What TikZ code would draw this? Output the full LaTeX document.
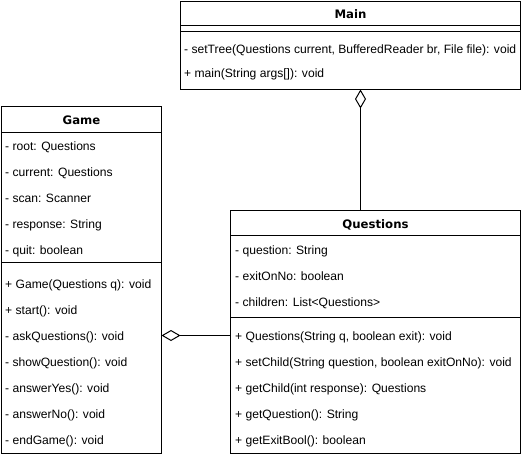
\documentclass[tikz,border=0pt]{standalone}
\usepackage{fontspec}
\setmainfont{Liberation Sans}
\newfontfamily\titlefont{DejaVu Sans}
\usetikzlibrary{arrows.meta}
\begin{document}
\begin{tikzpicture}[x=1pt,y=-1pt,
 box/.style={draw,line width=1pt,inner sep=0,outer sep=0,anchor=north west},
 txt/.style={anchor=base west,inner sep=0,font=\fontsize{12.1}{14}\selectfont},
 title/.style={anchor=base,inner sep=0,font=\titlefont\fontsize{11.7}{14}\selectfont\bfseries},
 sep/.style={line width=1pt},
 aggr/.style={line width=1pt,{Diamond[open,length=19pt,width=11pt,line width=1pt]}-}]
\useasboundingbox (0,0) rectangle (522,456);
% Main
\node[box,minimum width=340pt,minimum height=88pt] (main) at (180.5,1.5) {};
\node[title] (mainT) at (350.5,18) {Main};
\draw[sep] (main.west |- 0,25.5) -- (main.east |- 0,25.5);
\draw[sep] (main.west |- 0,31.5) -- (main.east |- 0,31.5);
\node[txt] (m1) at (184,53) {- setTree(Questions current, BufferedReader br, File file): void};
\node[txt] (m2) at (184,77) {+ main(String args[]): void};
% Game
\node[box,minimum width=160pt,minimum height=347pt] (game) at (1.5,106.5) {};
\node[title] (gameT) at (81.5,124) {Game};
\draw[sep] (game.west |- 0,132.5) -- (game.east |- 0,132.5);
\node[txt] (g1) at (5,150.5) {- root: Questions};
\node[txt] (g2) at (5,176) {- current: Questions};
\node[txt] (g3) at (5,202) {- scan: Scanner};
\node[txt] (g4) at (5,228) {- response: String};
\node[txt] (g5) at (5,254) {- quit: boolean};
\draw[sep] (game.west |- 0,262.5) -- (game.east |- 0,262.5);
\node[txt] (g6) at (5,288.5) {+ Game(Questions q): void};
\node[txt] (g7) at (5,314.5) {+ start(): void};
\node[txt] (g8) at (5,340.5) {- askQuestions(): void};
\node[txt] (g9) at (5,366.5) {- showQuestion(): void};
\node[txt] (g10) at (5,392.5) {- answerYes(): void};
\node[txt] (g11) at (5,418.5) {- answerNo(): void};
\node[txt] (g12) at (5,444.5) {- endGame(): void};
% Questions
\node[box,minimum width=290pt,minimum height=243pt] (q) at (230.5,210.5) {};
\node[title] (qT) at (375.5,228) {Questions};
\draw[sep] (q.west |- 0,235.5) -- (q.east |- 0,235.5);
\node[txt] (q1) at (235,254.5) {- question: String};
\node[txt] (q2) at (235,280.5) {- exitOnNo: boolean};
\node[txt] (q3) at (235,306) {- children: List<Questions>};
\draw[sep] (q.west |- 0,317.5) -- (q.east |- 0,317.5);
\node[txt] (q4) at (235,340.5) {+ Questions(String q, boolean exit): void};
\node[txt] (q5) at (235,366.5) {+ setChild(String question, boolean exitOnNo): void};
\node[txt] (q6) at (235,392) {+ getChild(int response): Questions};
\node[txt] (q7) at (235,418) {+ getQuestion(): String};
\node[txt] (q8) at (235,444) {+ getExitBool(): boolean};
% connectors
\coordinate (mx) at (360.5,0);
\coordinate (gy) at (0,335.5);
\draw[aggr] (main.south -| mx) -- (q.north -| mx);
\draw[aggr] (game.east |- gy) -- (q.west |- gy);
\end{tikzpicture}
\end{document}
